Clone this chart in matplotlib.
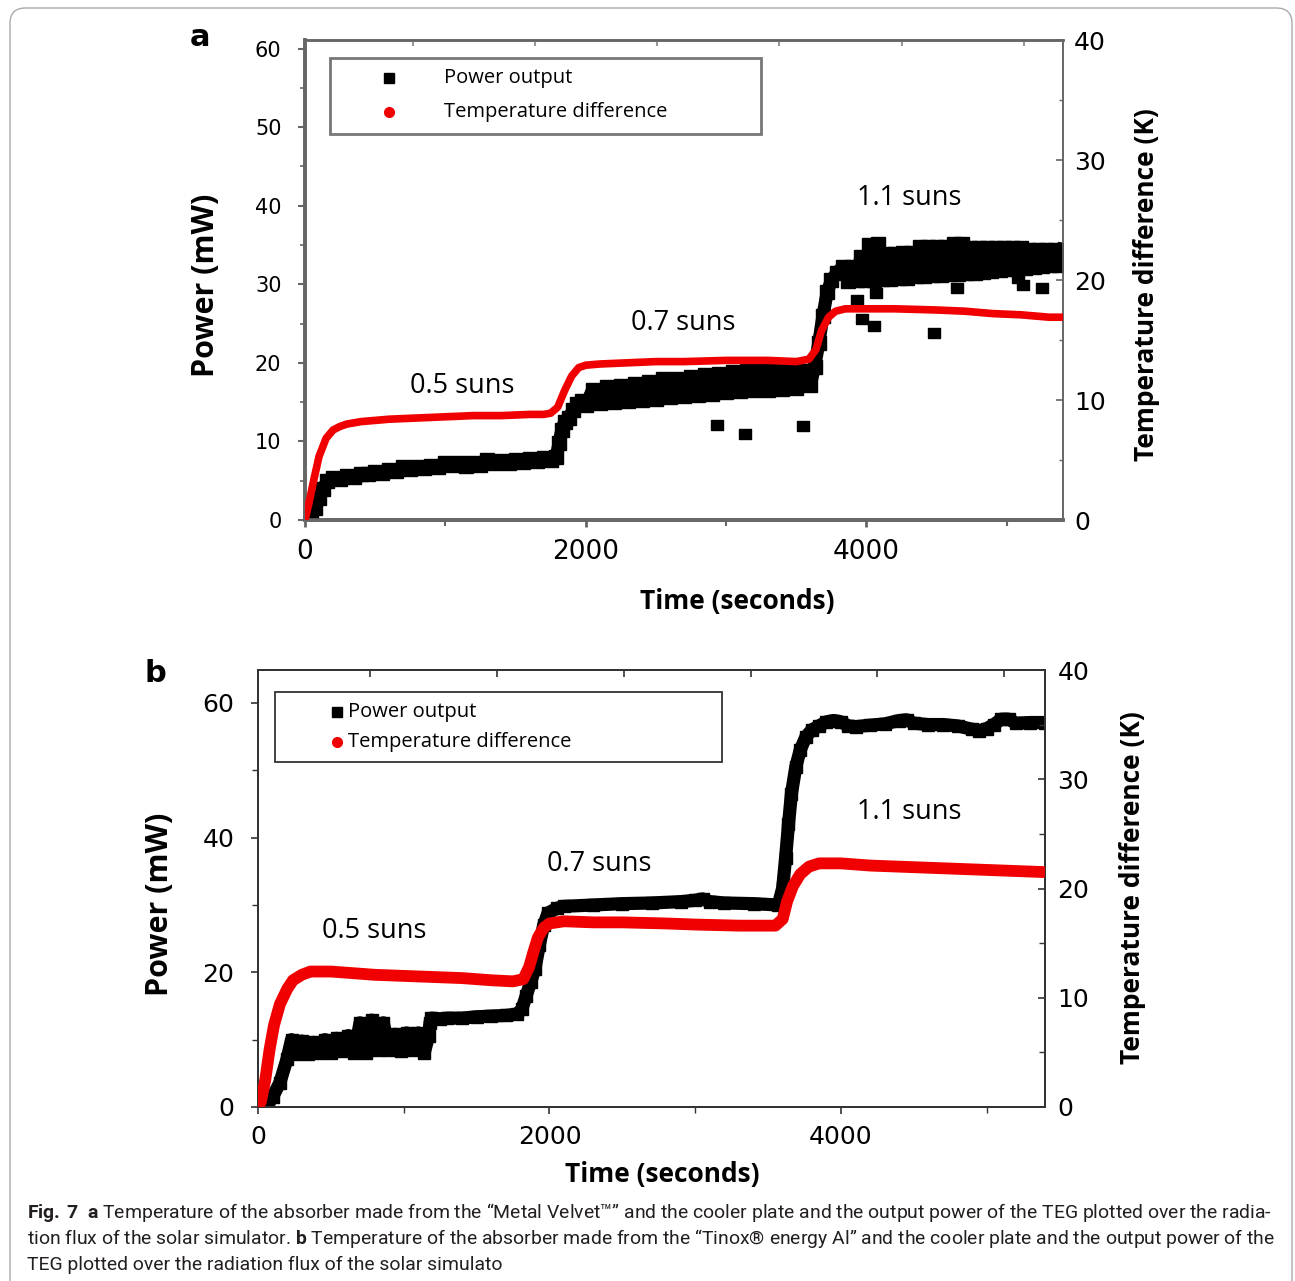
import matplotlib
matplotlib.use("Agg")
import matplotlib.pyplot as plt
from matplotlib.patches import Rectangle, FancyBboxPatch
from matplotlib import font_manager
from matplotlib.path import Path

# ---------------- data ----------------
# Panel a : power output (mW), noisy band of square markers
a_power_t = [40, 70, 100, 130, 160, 200, 250, 300, 350, 400, 450, 500, 550, 600, 650, 700, 750,
             800, 850, 900, 950, 1000, 1050, 1100, 1150, 1200, 1250, 1300, 1350, 1400, 1450, 1500,
             1550, 1600, 1650, 1700, 1750, 1790, 1810, 1830, 1850, 1880, 1910, 1940, 1970, 2000,
             2050, 2100, 2150, 2200, 2250, 2300, 2350, 2400, 2450, 2500, 2550, 2600, 2650, 2700,
             2750, 2800, 2850, 2900, 2950, 3000, 3050, 3100, 3150, 3200, 3250, 3300, 3350, 3400,
             3450, 3500, 3550, 3600, 3630, 3660, 3690, 3720, 3750, 3790, 3830,
             3870, 3900, 3930, 3960, 3990, 4020, 4050, 4080, 4110, 4140, 4170, 4200, 4230, 4260,
             4290, 4320, 4350, 4380, 4410, 4440, 4470, 4500, 4530, 4560, 4590, 4620, 4650, 4680,
             4710, 4740, 4770, 4800, 4830, 4860, 4890, 4920, 4950, 4980, 5010, 5040, 5070, 5100,
             5130, 5160, 5190, 5220, 5250, 5280, 5310, 5340, 5370, 5400]
a_power_mw = [0.3, 1.5, 2.8, 4.0, 5.0, 5.3, 5.2, 5.6, 5.5, 5.9, 5.8, 6.1, 6.0, 6.4, 6.3, 6.7, 6.5,
              6.8, 6.6, 6.9, 6.8, 7.3, 7.0, 7.2, 6.9, 7.2, 7.0, 7.6, 7.3, 7.5, 7.2, 7.6,
              7.4, 7.8, 7.5, 7.9, 7.7, 8.0, 9.8, 11.5, 12.5, 13.0, 14.0, 14.8, 15.2, 14.6,
              16.6, 14.9, 16.9, 15.0, 17.1, 15.2, 17.3, 15.3, 17.6, 15.4, 17.9, 15.6, 17.9, 15.8,
              18.2, 15.9, 18.4, 16.1, 18.6, 16.3, 18.9, 16.4, 19.0, 16.5, 19.2, 16.6, 19.1, 16.7,
              19.3, 16.8, 19.0, 17.2, 19.5, 22.5, 26.0, 29.0, 30.5, 31.5, 32.2,
              30.4, 32.2, 30.5, 33.5, 30.6, 35.0, 30.6, 35.1, 30.7, 33.9, 30.7, 33.9, 30.8, 34.0,
              30.8, 34.0, 31.0, 34.8, 31.0, 34.8, 31.2, 34.8, 31.2, 34.8, 31.3, 35.1, 31.3, 35.1,
              31.4, 34.6, 31.5, 34.6, 31.6, 34.6, 31.7, 34.6, 31.8, 34.6, 31.9, 34.6, 32.0, 34.6,
              32.1, 34.4, 32.2, 34.4, 32.3, 34.4, 32.4, 34.4, 32.4, 34.4]
# Panel a : isolated power points
a_outlier_t = [2938, 3138, 3551, 3934, 3971, 4050, 4071, 4478, 4648, 5077, 5112, 5248]
a_outlier_mw = [12.1, 10.9, 12.0, 28.0, 25.6, 24.7, 28.9, 23.8, 29.5, 30.8, 29.9, 29.5]
# Panel a : temperature difference (K)
a_temp_t = [0, 30, 60, 100, 150, 200, 250, 300, 400, 600, 800, 1000, 1200, 1400, 1600, 1700,
            1750, 1800, 1850, 1900, 1950, 2000, 2100, 2300, 2500, 2700, 3000, 3300, 3500, 3590,
            3640, 3680, 3730, 3780, 3850, 4000, 4200, 4500, 4700, 4900, 5100, 5300, 5400]
a_temp_k = [0.0, 1.5, 3.2, 5.3, 6.8, 7.5, 7.8, 8.0, 8.2, 8.4, 8.5, 8.6, 8.7, 8.7, 8.8, 8.8,
            8.9, 9.4, 10.8, 12.0, 12.7, 12.9, 13.0, 13.1, 13.2, 13.2, 13.3, 13.3, 13.2, 13.4,
            14.2, 15.8, 16.9, 17.4, 17.6, 17.6, 17.6, 17.5, 17.4, 17.2, 17.1, 16.9, 16.9]

# Panel b : power output (mW)
b_power_t = [60, 100, 150, 200, 230, 260, 300, 340, 380, 420, 460, 500, 540, 580, 620, 660, 700,
             740, 780, 820, 860, 900, 940, 980, 1020, 1060, 1100, 1140, 1170, 1180, 1190, 1250,
             1300, 1400, 1500, 1600, 1700, 1780, 1810, 1840, 1870, 1900, 1930, 1960, 1990, 2050,
             2100, 2300, 2500, 2700, 2900, 3000, 3050, 3100, 3200, 3400, 3570, 3600, 3620, 3640,
             3660, 3690, 3720, 3760, 3800, 3850, 3900, 3950, 4000, 4050, 4100, 4200, 4300, 4400,
             4450, 4500, 4600, 4700, 4800, 4900, 4950, 5000, 5050, 5100, 5150, 5200, 5300, 5400]
b_power_mw = [0.0, 1.5, 3.6, 7.2, 10.0, 7.8, 9.8, 7.9, 9.6, 8.0, 10.0, 8.0, 10.2, 8.3, 10.6, 8.0,
              12.5, 8.0, 12.9, 8.5, 12.5, 8.4, 10.8, 8.3, 11.0, 8.5, 11.0, 8.0, 10.5, 12.5, 13.2,
              13.1, 13.2, 13.2, 13.4, 13.5, 13.6, 13.8, 14.5, 16.5, 18.5, 20.5, 24.0, 27.0, 28.8,
              29.5, 29.8, 30.0, 30.2, 30.3, 30.5, 30.7, 30.9, 30.5, 30.3, 30.2, 30.0, 32.5, 37.0,
              42.0, 46.5, 50.5, 53.0, 55.0, 56.0, 56.6, 57.2, 57.4, 57.2, 56.6, 56.5, 56.7, 56.9,
              57.4, 57.5, 57.0, 56.8, 56.8, 56.6, 56.1, 55.9, 56.2, 56.8, 57.6, 57.6, 57.0, 57.1,
              57.1]
# Panel b : temperature difference (K)
b_temp_t = [0, 20, 50, 80, 110, 150, 200, 240, 300, 360, 400, 500, 600, 800, 1000, 1200, 1400,
            1600, 1750, 1820, 1860, 1890, 1920, 1960, 2000, 2100, 2300, 2500, 2800, 3000, 3300,
            3550, 3600, 3630, 3670, 3720, 3780, 3850, 4000, 4200, 4400, 4600, 4800, 5000, 5200, 5400]
b_temp_k = [0.0, 0.5, 2.5, 5.3, 7.5, 9.4, 10.8, 11.6, 12.1, 12.4, 12.4, 12.4, 12.3, 12.1, 12.0, 11.9,
            11.8, 11.6, 11.5, 11.7, 12.8, 14.2, 15.5, 16.4, 16.8, 17.0, 16.9, 16.9, 16.8, 16.7, 16.6,
            16.6, 17.2, 18.8, 20.2, 21.3, 22.0, 22.3, 22.3, 22.1, 22.0, 21.9, 21.8, 21.7, 21.6, 21.5]

# Annotations
sun_labels = ["0.5 suns", "0.7 suns", "1.1 suns"]
a_label_pos = [(1119, 17.0), (2695, 25.1), (4307, 41.0)]
b_label_pos = [(795, 26.2), (2342, 36.1), (4466, 43.8)]

legend_labels = ["Power output", "Temperature difference"]
x_label = "Time (seconds)"
y_left_label = "Power (mW)"
y_right_label = "Temperature difference (K)"

caption_lines = [
    r"$\mathbf{Fig.\,7}$  $\mathbf{a}$ Temperature of the absorber made from the “Metal Velvet™” and the cooler plate and the output power of the TEG plotted over the radia-",
    r"tion flux of the solar simulator. $\mathbf{b}$ Temperature of the absorber made from the “Tinox® energy Al” and the cooler plate and the output power of the",
    "TEG plotted over the radiation flux of the solar simulato",
]

# ---------------- styling ----------------
W, H = 1295, 1281
fig = plt.figure(figsize=(W / 100, H / 100), dpi=100)
fig.patch.set_facecolor("white")

names = {f.name for f in font_manager.fontManager.ttflist}
cap_font = "Liberation Sans Narrow" if "Liberation Sans Narrow" in names else "Roboto"
plt.rcParams["mathtext.fontset"] = "custom"
plt.rcParams["mathtext.rm"] = cap_font
plt.rcParams["mathtext.bf"] = cap_font + ":bold"

RED = "#f00000"
ann_font = "Open Sans"
lab_font = "Open Sans"


def px_axes(left, top, right, bottom):
    return [left / W, 1 - bottom / H, (right - left) / W, (bottom - top) / H]


def legend(ax, box, sq, ci, txt_x, ec, lw, fs):
    x0, y0, x1, y1 = box
    ax.add_patch(Rectangle((x0, y0), x1 - x0, y1 - y0, transform=ax.transAxes, fill=True,
                           facecolor="white", edgecolor=ec, lw=lw, zorder=10, clip_on=False))
    ax.plot([sq[0]], [sq[1]], marker="s", color="black", ms=7, transform=ax.transAxes,
            zorder=11, clip_on=False, ls="none")
    ax.plot([ci[0]], [ci[1]], marker="o", color=RED, ms=7, transform=ax.transAxes,
            zorder=11, clip_on=False, ls="none")
    ax.text(txt_x, sq[1], legend_labels[0], transform=ax.transAxes, va="center", ha="left",
            fontsize=fs, family=ann_font, zorder=12)
    ax.text(txt_x, ci[1], legend_labels[1], transform=ax.transAxes, va="center", ha="left",
            fontsize=fs, family=ann_font, zorder=12)


rect_marker = Path([(-1.3, -1), (1.3, -1), (1.3, 1), (-1.3, 1), (-1.3, -1)])

# ================= Panel a =================
axa = fig.add_axes(px_axes(305, 40, 1063, 520))
axa2 = axa.twinx()
axa.plot(a_power_t, a_power_mw, color="black", lw=9.5, marker="s", ms=10,
         solid_joinstyle="round", zorder=3)
axa.plot(a_outlier_t, a_outlier_mw, ls="none", marker=rect_marker, ms=9, color="black", zorder=3)
axa2.plot(a_temp_t, a_temp_k, color=RED, lw=5.5, solid_capstyle="butt",
          solid_joinstyle="round", zorder=3)
for s, (x, y) in zip(sun_labels, a_label_pos):
    axa.text(x, y, s, ha="center", va="center", fontsize=19.5, family=ann_font)

axa.set_xlim(0, 5400)
axa.set_ylim(0, 61.1)
axa2.set_ylim(0, 40)
axa.set_xticks([0, 2000, 4000])
axa.set_xticks([1000, 3000, 5000], minor=True)
axa.set_yticks([0, 10, 20, 30, 40, 50, 60])
axa.set_yticks([5, 15, 25, 35, 45, 55], minor=True)
axa2.set_yticks([0, 10, 20, 30, 40])
axa2.set_yticks([5, 15, 25, 35], minor=True)
gray = "#666666"
axa.tick_params(axis="y", which="major", direction="out", length=5, width=1.5, color=gray,
                labelsize=15, pad=12)
axa.tick_params(axis="y", which="minor", direction="out", length=3.5, width=1.2, color=gray)
axa.tick_params(axis="x", which="major", direction="out", length=5, width=2, color=gray,
                labelsize=19, pad=9)
axa.tick_params(axis="x", which="minor", direction="out", length=4, width=1.5, color=gray)
axa2.tick_params(axis="y", which="major", direction="in", length=5, width=1.2, color=gray,
                 labelsize=18, pad=8)
axa2.tick_params(axis="y", which="minor", direction="in", length=3, width=1, color=gray)
seca = axa.secondary_xaxis("top")
seca.set_xticks([770, 1640, 2510, 3380, 4250, 5120])
seca.tick_params(direction="in", length=4, width=1.5, color="#999999", labeltop=False)
seca.spines["top"].set_visible(False)
for sp, w in (("left", 2.6), ("bottom", 2.6), ("top", 1.8), ("right", 1.2)):
    axa.spines[sp].set_linewidth(w)
    axa.spines[sp].set_color(gray)
    axa2.spines[sp].set_linewidth(w)
    axa2.spines[sp].set_color(gray)

axa.set_xlabel(x_label, fontsize=19, fontweight="bold", family=lab_font)
axa.xaxis.set_label_coords(0.5699, -0.1708)
axa.xaxis.label.set_va("center")
axa.set_ylabel(y_left_label, fontsize=22, fontweight="bold", family=lab_font)
axa.yaxis.set_label_coords(-0.1306, 0.4896)
axa.yaxis.label.set_va("center")
axa2.set_ylabel(y_right_label, fontsize=19, fontweight="bold", family=lab_font)
axa2.yaxis.set_label_coords(1.1108, 0.4896)
axa2.yaxis.label.set_va("center")

legend(axa2, (0.033, 0.804, 0.6016, 0.9625), (0.1108, 0.9208), (0.1108, 0.85), 0.1834,
       "#777777", 2.0, 14.5)
fig.text(200 / W, 1 - 38 / H, "a", fontsize=22, fontweight="bold", ha="center", va="center")

# ================= Panel b =================
axb = fig.add_axes(px_axes(258, 670, 1045, 1107))
axb2 = axb.twinx()
axb.plot(b_power_t, b_power_mw, color="black", lw=9.5, marker="s", ms=8,
         solid_joinstyle="round", zorder=3)
axb2.plot(b_temp_t, b_temp_k, color=RED, lw=8.5, solid_capstyle="butt",
          solid_joinstyle="round", zorder=3)
for s, (x, y) in zip(sun_labels, b_label_pos):
    axb.text(x, y, s, ha="center", va="center", fontsize=19.5, family=ann_font)

axb.set_xlim(0, 5400)
axb.set_ylim(0, 64.9)
axb2.set_ylim(0, 40)
axb.set_xticks([0, 2000, 4000])
axb.set_xticks([1000, 3000, 5000], minor=True)
axb.set_yticks([0, 20, 40, 60])
axb.set_yticks([10, 30, 50], minor=True)
axb2.set_yticks([0, 10, 20, 30, 40])
axb2.set_yticks([5, 15, 25, 35], minor=True)
dark = "#333333"
axb.tick_params(axis="y", which="major", direction="out", length=5, width=1.2, color=dark,
                labelsize=18, pad=12)
axb.tick_params(axis="y", which="minor", direction="out", length=4, width=1.0, color=dark)
axb.tick_params(axis="x", which="major", direction="out", length=5, width=1.2, color=dark,
                labelsize=18, pad=8)
axb.tick_params(axis="x", which="minor", direction="out", length=4, width=1.0, color=dark)
axb2.tick_params(axis="y", which="major", direction="in", length=5, width=1.2, color=dark,
                 labelsize=18, pad=9)
axb2.tick_params(axis="y", which="minor", direction="in", length=4, width=1.0, color=dark)
secb = axb.secondary_xaxis("top")
secb.set_xticks([770, 1640, 2510, 3380, 4250, 5120])
secb.tick_params(direction="in", length=5, width=1.2, color=dark, labeltop=False)
secb.spines["top"].set_visible(False)
for sp in ("left", "bottom", "top", "right"):
    axb.spines[sp].set_linewidth(1.4)
    axb.spines[sp].set_color(dark)
    axb2.spines[sp].set_linewidth(1.4)
    axb2.spines[sp].set_color(dark)

axb.set_xlabel(x_label, fontsize=19, fontweight="bold", family=lab_font)
axb.xaxis.set_label_coords(0.5133, -0.1556)
axb.xaxis.label.set_va("center")
axb.set_ylabel(y_left_label, fontsize=22, fontweight="bold", family=lab_font)
axb.yaxis.set_label_coords(-0.1245, 0.4645)
axb.yaxis.label.set_va("center")
axb2.set_ylabel(y_right_label, fontsize=19, fontweight="bold", family=lab_font)
axb2.yaxis.set_label_coords(1.1118, 0.501)
axb2.yaxis.label.set_va("center")

legend(axb2, (0.0216, 0.7895, 0.5896, 0.9497), (0.1004, 0.9039), (0.1004, 0.8352), 0.1144,
       "#333333", 1.3, 14.5)
fig.text(155 / W, 1 - 673 / H, "b", fontsize=22, fontweight="bold", ha="center", va="center")

# ================= frame & caption =================
fig.patches.append(FancyBboxPatch((10 / W, -0.02), 1282 / W, 1 - 8 / H + 0.02,
                                  boxstyle="round,pad=0,rounding_size=0.012",
                                  transform=fig.transFigure, fill=False,
                                  edgecolor="#aaaaaa", lw=1.0, zorder=0))

renderer = fig.canvas.get_renderer()
probe = fig.text(27 / W, 0.5, caption_lines[0], fontsize=12, family=cap_font)
wpx = probe.get_window_extent(renderer).width
probe.remove()
cap_size = 12 * 1239 / wpx
for line, ypx in zip(caption_lines, [1212, 1239, 1265]):
    fig.text(27 / W, 1 - ypx / H, line, fontsize=cap_size, family=cap_font, color="#231f20",
             ha="left", va="center")

fig.savefig("out.png", dpi=100, facecolor="white")
